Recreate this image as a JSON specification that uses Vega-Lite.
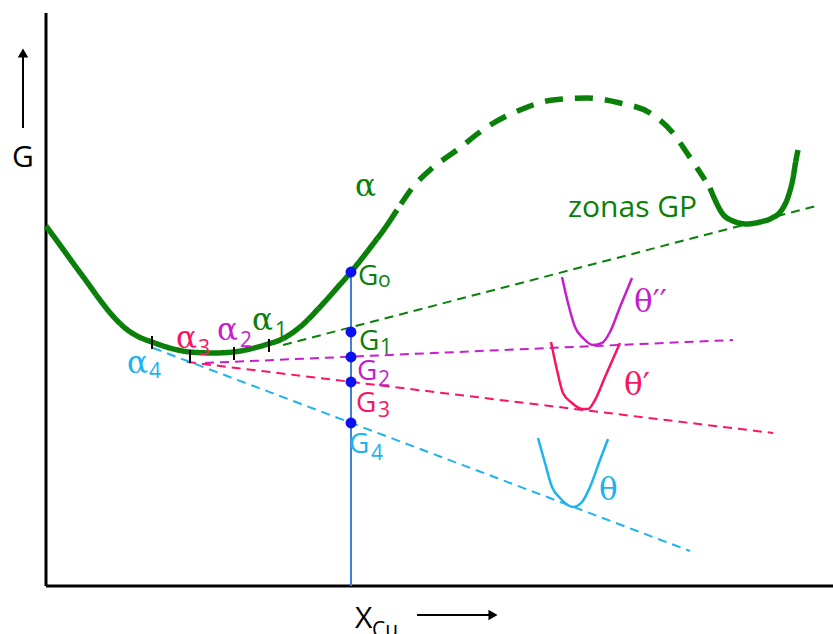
{
  "$schema": "https://vega.github.io/schema/vega-lite/v6.json",
  "width": 833,
  "height": 634,
  "autosize": {"type": "none"},
  "padding": 0,
  "background": "white",
  "config": {"view": {"stroke": null}},
  "layer": [
    {
      "data": {"values": [
        {"x": 46, "g": 621, "x2": 46, "g2": 48, "s": "negro"},
        {"x": 46, "g": 48, "x2": 833, "g2": 48, "s": "negro"}
      ]},
      "mark": {"type": "rule", "strokeWidth": 3},
      "encoding": {
        "x": {"field": "x", "type": "quantitative", "scale": {"domain": [0, 833], "nice": false, "zero": false}, "axis": null},
        "y": {"field": "g", "type": "quantitative", "scale": {"domain": [0, 634], "nice": false, "zero": false}, "axis": null},
        "x2": {"field": "x2"},
        "y2": {"field": "g2"},
        "color": {"field": "s", "type": "nominal", "scale": {"domain": ["verde", "magenta", "rosa", "cian", "azul", "linea", "negro"], "range": ["#0a800a", "#c51fcc", "#fa1464", "#1db3ee", "#0a10f2", "#3d7fd9", "#000000"]}, "legend": null}
      }
    },
    {
      "data": {"values": [
        {"x": 23, "g": 506, "x2": 23, "g2": 577, "s": "negro"},
        {"x": 417, "g": 19, "x2": 489, "g2": 19, "s": "negro"}
      ]},
      "mark": {"type": "rule", "strokeWidth": 2},
      "encoding": {
        "x": {"field": "x", "type": "quantitative", "axis": null},
        "y": {"field": "g", "type": "quantitative", "axis": null},
        "x2": {"field": "x2"},
        "y2": {"field": "g2"},
        "color": {"field": "s", "type": "nominal", "legend": null}
      }
    },
    {
      "data": {"values": [
        {"x": 23, "g": 581, "sh": "arriba", "s": "negro"},
        {"x": 493, "g": 19, "sh": "derecha", "s": "negro"}
      ]},
      "mark": {"type": "point", "filled": true, "opacity": 1, "size": 110},
      "encoding": {
        "x": {"field": "x", "type": "quantitative", "axis": null},
        "y": {"field": "g", "type": "quantitative", "axis": null},
        "shape": {"field": "sh", "type": "nominal", "scale": {"domain": ["arriba", "derecha"], "range": ["triangle-up", "triangle-right"]}, "legend": null},
        "color": {"field": "s", "type": "nominal", "legend": null}
      }
    },
    {
      "data": {"values": [
        {"x": 283, "g": 289, "s": "verde"},
        {"x": 820, "g": 429, "s": "verde"},
        {"x": 205, "g": 271, "s": "magenta"},
        {"x": 733, "g": 294, "s": "magenta"},
        {"x": 187, "g": 272, "s": "rosa"},
        {"x": 773, "g": 201, "s": "rosa"},
        {"x": 153, "g": 286, "s": "cian"},
        {"x": 690, "g": 83, "s": "cian"}
      ]},
      "mark": {"type": "line", "strokeWidth": 2, "strokeDash": [9, 6]},
      "encoding": {
        "x": {"field": "x", "type": "quantitative", "axis": null},
        "y": {"field": "g", "type": "quantitative", "axis": null},
        "color": {"field": "s", "type": "nominal", "legend": null},
        "detail": {"field": "s"}
      }
    },
    {
      "data": {"values": [
        {"x": 351, "g": 362, "g2": 48, "s": "linea"}
      ]},
      "mark": {"type": "rule", "strokeWidth": 2},
      "encoding": {
        "x": {"field": "x", "type": "quantitative", "axis": null},
        "y": {"field": "g", "type": "quantitative", "axis": null},
        "y2": {"field": "g2"},
        "color": {"field": "s", "type": "nominal", "legend": null}
      }
    },
    {
      "data": {"values": [
        {"seg": "A", "estilo": "solida", "x": 46, "g": 408},
        {"seg": "A", "estilo": "solida", "x": 60, "g": 389},
        {"seg": "A", "estilo": "solida", "x": 73, "g": 371},
        {"seg": "A", "estilo": "solida", "x": 87, "g": 352},
        {"seg": "A", "estilo": "solida", "x": 100, "g": 334},
        {"seg": "A", "estilo": "solida", "x": 112, "g": 319},
        {"seg": "A", "estilo": "solida", "x": 125, "g": 306},
        {"seg": "A", "estilo": "solida", "x": 137, "g": 298},
        {"seg": "A", "estilo": "solida", "x": 152, "g": 292},
        {"seg": "A", "estilo": "solida", "x": 170, "g": 286},
        {"seg": "A", "estilo": "solida", "x": 190, "g": 282},
        {"seg": "A", "estilo": "solida", "x": 213, "g": 281},
        {"seg": "A", "estilo": "solida", "x": 233, "g": 282},
        {"seg": "A", "estilo": "solida", "x": 250, "g": 285},
        {"seg": "A", "estilo": "solida", "x": 268, "g": 290},
        {"seg": "A", "estilo": "solida", "x": 280, "g": 294},
        {"seg": "A", "estilo": "solida", "x": 300, "g": 307},
        {"seg": "A", "estilo": "solida", "x": 320, "g": 327},
        {"seg": "A", "estilo": "solida", "x": 337, "g": 346},
        {"seg": "A", "estilo": "solida", "x": 351, "g": 362},
        {"seg": "A", "estilo": "solida", "x": 370, "g": 386},
        {"seg": "A", "estilo": "solida", "x": 385, "g": 406},
        {"seg": "A", "estilo": "solida", "x": 397, "g": 424},
        {"seg": "B", "estilo": "discontinua", "x": 401, "g": 430},
        {"seg": "B", "estilo": "discontinua", "x": 413, "g": 447},
        {"seg": "B", "estilo": "discontinua", "x": 430, "g": 464},
        {"seg": "B", "estilo": "discontinua", "x": 457, "g": 484},
        {"seg": "B", "estilo": "discontinua", "x": 487, "g": 507},
        {"seg": "B", "estilo": "discontinua", "x": 520, "g": 524},
        {"seg": "B", "estilo": "discontinua", "x": 553, "g": 534},
        {"seg": "B", "estilo": "discontinua", "x": 587, "g": 536},
        {"seg": "B", "estilo": "discontinua", "x": 620, "g": 531},
        {"seg": "B", "estilo": "discontinua", "x": 650, "g": 521},
        {"seg": "B", "estilo": "discontinua", "x": 673, "g": 501},
        {"seg": "B", "estilo": "discontinua", "x": 687, "g": 481},
        {"seg": "B", "estilo": "discontinua", "x": 705, "g": 454},
        {"seg": "C", "estilo": "solida", "x": 710, "g": 446},
        {"seg": "C", "estilo": "solida", "x": 716, "g": 432},
        {"seg": "C", "estilo": "solida", "x": 722, "g": 421},
        {"seg": "C", "estilo": "solida", "x": 733, "g": 413},
        {"seg": "C", "estilo": "solida", "x": 747, "g": 410},
        {"seg": "C", "estilo": "solida", "x": 760, "g": 412},
        {"seg": "C", "estilo": "solida", "x": 772, "g": 416},
        {"seg": "C", "estilo": "solida", "x": 781, "g": 423},
        {"seg": "C", "estilo": "solida", "x": 788, "g": 437},
        {"seg": "C", "estilo": "solida", "x": 793, "g": 456},
        {"seg": "C", "estilo": "solida", "x": 796, "g": 474},
        {"seg": "C", "estilo": "solida", "x": 798, "g": 484}
      ]},
      "mark": {"type": "line", "strokeWidth": 5.5, "interpolate": "monotone", "color": "#0a800a"},
      "encoding": {
        "x": {"field": "x", "type": "quantitative", "axis": null},
        "y": {"field": "g", "type": "quantitative", "axis": null},
        "detail": {"field": "seg"},
        "strokeDash": {"field": "estilo", "type": "nominal", "scale": {"domain": ["solida", "discontinua"], "range": [[1, 0], [18, 12]]}, "legend": null}
      }
    },
    {
      "data": {"values": [
        {"x": 152, "g": 298, "g2": 285, "s": "negro"},
        {"x": 190, "g": 284, "g2": 271, "s": "negro"},
        {"x": 234, "g": 287, "g2": 274, "s": "negro"},
        {"x": 269, "g": 295, "g2": 282, "s": "negro"}
      ]},
      "mark": {"type": "rule", "strokeWidth": 2},
      "encoding": {
        "x": {"field": "x", "type": "quantitative", "axis": null},
        "y": {"field": "g", "type": "quantitative", "axis": null},
        "y2": {"field": "g2"},
        "color": {"field": "s", "type": "nominal", "legend": null}
      }
    },
    {
      "data": {"values": [
        {"s": "magenta", "x": 562, "g": 357},
        {"s": "magenta", "x": 568, "g": 331},
        {"s": "magenta", "x": 575, "g": 307},
        {"s": "magenta", "x": 583, "g": 296},
        {"s": "magenta", "x": 593, "g": 289},
        {"s": "magenta", "x": 602, "g": 291},
        {"s": "magenta", "x": 610, "g": 302},
        {"s": "magenta", "x": 620, "g": 327},
        {"s": "magenta", "x": 632, "g": 356},
        {"s": "rosa", "x": 551, "g": 292},
        {"s": "rosa", "x": 557, "g": 264},
        {"s": "rosa", "x": 563, "g": 241},
        {"s": "rosa", "x": 572, "g": 231},
        {"s": "rosa", "x": 582, "g": 225},
        {"s": "rosa", "x": 588, "g": 225},
        {"s": "rosa", "x": 595, "g": 234},
        {"s": "rosa", "x": 605, "g": 257},
        {"s": "rosa", "x": 620, "g": 291},
        {"s": "cian", "x": 538, "g": 196},
        {"s": "cian", "x": 545, "g": 171},
        {"s": "cian", "x": 552, "g": 147},
        {"s": "cian", "x": 560, "g": 136},
        {"s": "cian", "x": 573, "g": 127},
        {"s": "cian", "x": 582, "g": 132},
        {"s": "cian", "x": 590, "g": 147},
        {"s": "cian", "x": 600, "g": 174},
        {"s": "cian", "x": 608, "g": 195}
      ]},
      "mark": {"type": "line", "strokeWidth": 2.5, "interpolate": "monotone"},
      "encoding": {
        "x": {"field": "x", "type": "quantitative", "axis": null},
        "y": {"field": "g", "type": "quantitative", "axis": null},
        "color": {"field": "s", "type": "nominal", "legend": null},
        "detail": {"field": "s"}
      }
    },
    {
      "data": {"values": [
        {"x": 351, "g": 362, "s": "azul"},
        {"x": 351, "g": 302, "s": "azul"},
        {"x": 351, "g": 277, "s": "azul"},
        {"x": 351, "g": 252, "s": "azul"},
        {"x": 351, "g": 211, "s": "azul"}
      ]},
      "mark": {"type": "circle", "size": 120, "opacity": 1},
      "encoding": {
        "x": {"field": "x", "type": "quantitative", "axis": null},
        "y": {"field": "g", "type": "quantitative", "axis": null},
        "color": {"field": "s", "type": "nominal", "legend": null}
      }
    },
    {
      "data": {"values": [
        {"x": 355, "g": 438, "t": "α", "s": "verde"},
        {"x": 252, "g": 304, "t": "α", "s": "verde"},
        {"x": 217, "g": 294, "t": "α", "s": "magenta"},
        {"x": 176, "g": 286, "t": "α", "s": "rosa"},
        {"x": 127, "g": 261, "t": "α", "s": "cian"},
        {"x": 634, "g": 322, "t": "θ′′", "s": "magenta"},
        {"x": 624, "g": 239, "t": "θ′", "s": "rosa"},
        {"x": 599, "g": 134, "t": "θ", "s": "cian"}
      ]},
      "mark": {"type": "text", "font": "DejaVu Serif", "fontSize": 31, "align": "left", "baseline": "alphabetic"},
      "encoding": {
        "x": {"field": "x", "type": "quantitative", "axis": null},
        "y": {"field": "g", "type": "quantitative", "axis": null},
        "text": {"field": "t"},
        "color": {"field": "s", "type": "nominal", "legend": null}
      }
    },
    {
      "data": {"values": [
        {"x": 358, "g": 349, "t": "G", "s": "verde"},
        {"x": 359, "g": 284, "t": "G", "s": "verde"},
        {"x": 357, "g": 254, "t": "G", "s": "magenta"},
        {"x": 356, "g": 222, "t": "G", "s": "rosa"},
        {"x": 349, "g": 181, "t": "G", "s": "cian"}
      ]},
      "mark": {"type": "text", "font": "Open Sans", "fontSize": 28, "align": "left", "baseline": "alphabetic"},
      "encoding": {
        "x": {"field": "x", "type": "quantitative", "axis": null},
        "y": {"field": "g", "type": "quantitative", "axis": null},
        "text": {"field": "t"},
        "color": {"field": "s", "type": "nominal", "legend": null}
      }
    },
    {
      "data": {"values": [
        {"x": 378, "g": 347, "t": "o", "s": "verde"},
        {"x": 380, "g": 280, "t": "1", "s": "verde"},
        {"x": 378, "g": 248, "t": "2", "s": "magenta"},
        {"x": 378, "g": 217, "t": "3", "s": "rosa"},
        {"x": 371, "g": 174, "t": "4", "s": "cian"},
        {"x": 275, "g": 297, "t": "1", "s": "verde"},
        {"x": 240, "g": 287, "t": "2", "s": "magenta"},
        {"x": 198, "g": 279, "t": "3", "s": "rosa"},
        {"x": 149, "g": 256, "t": "4", "s": "cian"},
        {"x": 372, "g": -3, "t": "Cu", "s": "negro"}
      ]},
      "mark": {"type": "text", "font": "Open Sans", "fontSize": 21, "align": "left", "baseline": "alphabetic"},
      "encoding": {
        "x": {"field": "x", "type": "quantitative", "axis": null},
        "y": {"field": "g", "type": "quantitative", "axis": null},
        "text": {"field": "t"},
        "color": {"field": "s", "type": "nominal", "legend": null}
      }
    },
    {
      "data": {"values": [
        {"x": 568, "g": 417, "t": "zonas GP", "s": "verde"},
        {"x": 12, "g": 467, "t": "G", "s": "negro"},
        {"x": 355, "g": 6, "t": "X", "s": "negro"}
      ]},
      "mark": {"type": "text", "font": "Open Sans", "fontSize": 30, "align": "left", "baseline": "alphabetic"},
      "encoding": {
        "x": {"field": "x", "type": "quantitative", "axis": null},
        "y": {"field": "g", "type": "quantitative", "axis": null},
        "text": {"field": "t"},
        "color": {"field": "s", "type": "nominal", "legend": null}
      }
    }
  ]
}
